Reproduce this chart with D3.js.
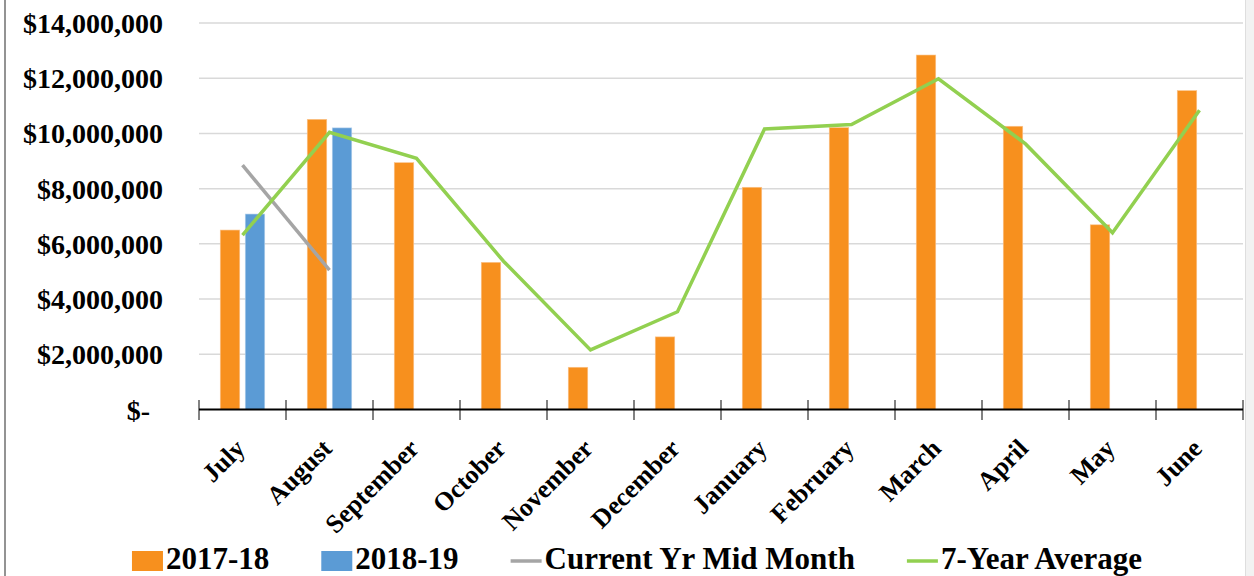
<!DOCTYPE html>
<html>
<head>
<meta charset="utf-8">
<script src="https://cdn.jsdelivr.net/npm/d3@7"></script>
<style>
  html, body { margin: 0; padding: 0; background: #fff; }
  svg { display: block; font-family: "Liberation Serif", "Times New Roman", serif; font-weight: bold; }
</style>
</head>
<body>
<script>
/* ——— data ——————————————— */
const months = ["July","August","September","October","November","December",
                "January","February","March","April","May","June"];
const sales1718    = [6500000, 10510000, 8940000, 5330000, 1530000, 2630000,
                      8050000, 10210000, 12840000, 10260000, 6690000, 11550000];
const sales1819    = [7080000, 10200000];
const midMonth     = [8850000, 5050000];
const sevenYearAvg = [6320000, 10040000, 9100000, 5370000, 2160000, 3540000,
                      10160000, 10320000, 11980000, 9620000, 6400000, 10840000];
const yTicks = [0, 2000000, 4000000, 6000000, 8000000, 10000000, 12000000, 14000000];
const legendItems = [
  {name:"2017-18", kind:"bar", color:"#F7901E"},
  {name:"2018-19", kind:"bar", color:"#5B9BD5"},
  {name:"Current Yr Mid Month", kind:"line", color:"#A5A5A5"},
  {name:"7-Year Average", kind:"line", color:"#92D050"}
];

const W = 1254, H = 576;
const margin = {top:23, right:11, bottom:166.5, left:199};

const svg = d3.select("body").append("svg")
  .attr("width", W).attr("height", H);

/* ——— frame ———————————————————————————————————— */
svg.append("line")
  .attr("x1",5).attr("x2",5).attr("y1",0).attr("y2",H)
  .attr("stroke","#6f6f6f").attr("stroke-width",1.5);
svg.append("rect")
  .attr("x",1245).attr("y",0).attr("width",9).attr("height",H)
  .attr("fill","#f2f2f2");
svg.append("line")
  .attr("x1",1245.5).attr("x2",1245.5).attr("y1",0).attr("y2",H)
  .attr("stroke","#dedede").attr("stroke-width",1);

/* ——— scales ——————————————————————————————————— */
const x = d3.scaleBand(months, [margin.left, W - margin.right]);
const y = d3.scaleLinear([0, 14000000], [H - margin.bottom, margin.top]);
const cx = m => x(m) + x.bandwidth()/2;
const barW = 19.5, barOff = 12.5;

/* ——— gridlines ———————————————————————————————— */
svg.append("g")
  .selectAll("line").data(yTicks.filter(d => d > 0)).join("line")
    .attr("x1", margin.left).attr("x2", W - margin.right)
    .attr("y1", d => y(d)).attr("y2", d => y(d))
    .attr("stroke","#d9d9d9").attr("stroke-width",1.5);

/* ——— y axis labels ———————————————————————————— */
const yFmt = d => d === 0 ? "$-" : "$" + d3.format(",")(d);
const yAxis = svg.append("g")
  .attr("transform", `translate(${margin.left},0)`)
  .call(d3.axisLeft(y).tickValues(yTicks).tickFormat(yFmt).tickSize(0).tickPadding(36));
yAxis.select(".domain").remove();
yAxis.selectAll("text")
  .attr("font-family", "Liberation Serif, Times New Roman, serif")
  .attr("font-weight", "bold")
  .attr("font-size", 28)
  .attr("fill", "#000")
  .attr("dy", "0.34em")
  .attr("dx", d => d === 0 ? -13 : 0);

/* ——— bars —————————————————————————————————————— */
svg.append("g")
  .selectAll("rect").data(sales1718).join("rect")
    .attr("x", (d,i) => cx(months[i]) - barOff - barW/2)
    .attr("width", barW)
    .attr("y", d => y(d))
    .attr("height", d => y(0) - y(d))
    .attr("fill", legendItems[0].color)
    .attr("stroke", "#fbc48c").attr("stroke-width", 0.6);

svg.append("g")
  .selectAll("rect").data(sales1819).join("rect")
    .attr("x", (d,i) => cx(months[i]) + barOff - barW/2)
    .attr("width", barW)
    .attr("y", d => y(d))
    .attr("height", d => y(0) - y(d))
    .attr("fill", legendItems[1].color)
    .attr("stroke", "#b3d0ec").attr("stroke-width", 0.6);

/* ——— x axis ———————————————————————————————————— */
const y0 = y(0);
svg.append("g")
  .selectAll("line").data(d3.range(months.length + 1)).join("line")
    .attr("x1", i => margin.left + i*x.step())
    .attr("x2", i => margin.left + i*x.step())
    .attr("y1", y0 - 9.5).attr("y2", y0 + 10.5)
    .attr("stroke","#595959").attr("stroke-width",1.5);
svg.append("line")
  .attr("x1", margin.left).attr("x2", W - margin.right)
  .attr("y1", y0).attr("y2", y0)
  .attr("stroke","#000").attr("stroke-width",2);

svg.append("g")
  .selectAll("text").data(months).join("text")
    .attr("text-anchor","end")
    .attr("font-size", 26)
    .attr("transform", m => `translate(${cx(m) + 4},${450}) rotate(-45)`)
    .text(m => m);

/* ——— lines ————————————————————————————————————— */
const line = d3.line()
  .x((d,i) => cx(months[i]))
  .y(d => y(d));

svg.append("path")
  .datum(midMonth)
  .attr("d", line)
  .attr("fill","none")
  .attr("stroke", legendItems[2].color)
  .attr("stroke-width", 3.5);

svg.append("path")
  .datum(sevenYearAvg)
  .attr("d", line)
  .attr("fill","none")
  .attr("stroke", legendItems[3].color)
  .attr("stroke-width", 3.5);

/* ——— legend ———————————————————————————————————— */
const legend = svg.append("g");
let lx = 0;
legendItems.forEach(it => {
  const g = legend.append("g").attr("transform", `translate(${lx},0)`);
  if (it.kind === "bar"){
    g.append("rect").attr("x",0).attr("y",-18).attr("width",31).attr("height",20)
      .attr("fill", it.color);
  } else {
    g.append("line").attr("x1",0).attr("x2",31).attr("y1",-8).attr("y2",-8)
      .attr("stroke", it.color).attr("stroke-width",3.5);
  }
  const t = g.append("text").attr("x",34).attr("y",0)
    .attr("font-size",31).text(it.name);
  lx += 34 + t.node().getComputedTextLength() + 52;
});
const legendW = lx - 52;
legend.attr("transform", `translate(${637 - legendW/2},569)`);
</script>
</body>
</html>
